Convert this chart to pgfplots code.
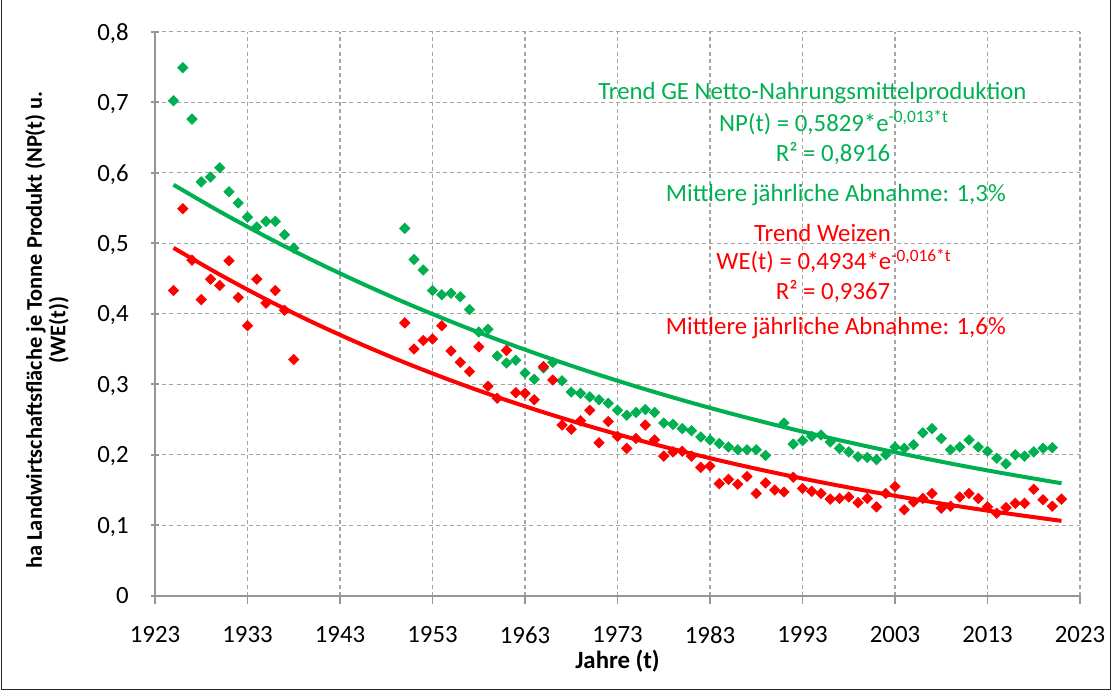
\documentclass[border=0pt]{standalone}
\usepackage{fontspec}
\setmainfont{Carlito}
\usepackage{pgfplots}
\usepackage{pgfplotstable}
\pgfplotsset{compat=1.18}
\definecolor{cgreen}{RGB}{0,176,80}
\definecolor{cred}{RGB}{255,0,0}
\definecolor{cgrid}{RGB}{165,165,165}
\definecolor{caxis}{RGB}{150,150,150}

\pgfplotstableread{
year val
1925 0.702
1926 0.749
1927 0.676
1928 0.587
1929 0.594
1930 0.607
1931 0.573
1932 0.557
1933 0.537
1934 0.523
1935 0.531
1936 0.531
1937 0.512
1938 0.493
1950 0.521
1951 0.477
1952 0.462
1953 0.433
1954 0.427
1955 0.429
1956 0.424
1957 0.406
1958 0.374
1959 0.378
1960 0.340
1961 0.330
1962 0.334
1963 0.316
1964 0.307
1965 0.323
1966 0.331
1967 0.305
1968 0.289
1969 0.287
1970 0.282
1971 0.278
1972 0.273
1973 0.263
1974 0.256
1975 0.260
1976 0.264
1977 0.260
1978 0.245
1979 0.243
1980 0.237
1981 0.234
1982 0.225
1983 0.221
1984 0.216
1985 0.211
1986 0.207
1987 0.207
1988 0.207
1989 0.199
1991 0.245
1992 0.215
1993 0.220
1994 0.226
1995 0.228
1996 0.218
1997 0.209
1998 0.204
1999 0.197
2000 0.196
2001 0.193
2002 0.200
2003 0.211
2004 0.209
2005 0.214
2006 0.231
2007 0.237
2008 0.223
2009 0.207
2010 0.211
2011 0.221
2012 0.211
2013 0.205
2014 0.195
2015 0.187
2016 0.200
2017 0.198
2018 0.204
2019 0.209
2020 0.210
}\npdata

\pgfplotstableread{
year val
1925 0.433
1926 0.549
1927 0.476
1928 0.420
1929 0.449
1930 0.440
1931 0.475
1932 0.423
1933 0.383
1934 0.449
1935 0.415
1936 0.433
1937 0.405
1938 0.335
1950 0.387
1951 0.350
1952 0.362
1953 0.364
1954 0.383
1955 0.347
1956 0.331
1957 0.318
1958 0.353
1959 0.297
1960 0.280
1961 0.348
1962 0.288
1963 0.287
1964 0.278
1965 0.325
1966 0.306
1967 0.242
1968 0.236
1969 0.248
1970 0.263
1971 0.217
1972 0.247
1973 0.226
1974 0.209
1975 0.223
1976 0.242
1977 0.221
1978 0.198
1979 0.204
1980 0.205
1981 0.198
1982 0.182
1983 0.184
1984 0.159
1985 0.165
1986 0.158
1987 0.169
1988 0.145
1989 0.160
1990 0.150
1991 0.147
1992 0.168
1993 0.152
1994 0.148
1995 0.145
1996 0.137
1997 0.138
1998 0.140
1999 0.132
2000 0.138
2001 0.126
2002 0.145
2003 0.155
2004 0.122
2005 0.133
2006 0.138
2007 0.145
2008 0.124
2009 0.127
2010 0.140
2011 0.145
2012 0.138
2013 0.126
2014 0.117
2015 0.125
2016 0.131
2017 0.131
2018 0.151
2019 0.136
2020 0.127
2021 0.137
}\wedata

\pgfplotstableread{
year val
1925 0.5829
1930 0.5449
1935 0.5093
1940 0.4760
1945 0.4450
1950 0.4159
1955 0.3888
1960 0.3634
1965 0.3397
1970 0.3175
1975 0.2968
1980 0.2774
1985 0.2593
1990 0.2424
1995 0.2266
2000 0.2118
2005 0.1980
2010 0.1850
2015 0.1730
2020 0.1617
2021 0.1595
}\nptrend

\pgfplotstableread{
year val
1925 0.4934
1930 0.4555
1935 0.4204
1940 0.3881
1945 0.3583
1950 0.3307
1955 0.3053
1960 0.2818
1965 0.2602
1970 0.2402
1975 0.2217
1980 0.2047
1985 0.1889
1990 0.1744
1995 0.1610
2000 0.1486
2005 0.1372
2010 0.1266
2015 0.1169
2020 0.1079
2021 0.1062
}\wetrend

\newcommand{\fs}{\fontsize{12.4}{14.5}\selectfont}
\newcommand{\fsy}{\fontsize{11.2}{11.8}\selectfont}

\begin{document}
\begin{tikzpicture}
\path[use as bounding box] (0,0) rectangle (556pt,-345.5pt);
\draw[line width=0.6pt, black!85] (0.6pt,0) -- (0.6pt,-344.9pt) -- (555.4pt,-344.9pt) -- (555.4pt,0);
\begin{axis}[
  at={(77.5pt,-15.85pt)}, anchor=north west,
  scale only axis, width=462.5pt, height=282pt,
  xmin=1923, xmax=2023, ymin=0, ymax=0.8,
  xtick={1923,1933,1943,1953,1963,1973,1983,1993,2003,2013,2023},
  ytick={0,0.1,0.2,0.3,0.4,0.5,0.6,0.7,0.8},
  axis x line*=bottom, axis y line*=left,
  axis line style={-, draw=caxis, line width=1.1pt},
  xmajorgrids, ymajorgrids,
  major grid style={draw=cgrid, line width=0.55pt, dash pattern=on 2pt off 1.6pt},
  xtick align=outside, ytick align=center,
  major tick length=4pt,
  tick style={draw=caxis, line width=0.8pt},
  tick label style={font=\fs},
  xticklabel style={yshift=-8pt, /pgf/number format/1000 sep={}, /pgf/number format/assume math mode=true},
  yticklabel style={xshift=-7.6pt, text depth=0pt, /pgf/number format/use comma, /pgf/number format/assume math mode=true},
  clip=false,
]
\addplot[only marks, mark=square*, mark size=1.8pt, mark options={rotate=45, fill=cgreen, draw=cgreen}] table[x=year, y=val] {\npdata};
\addplot[only marks, mark=square*, mark size=1.8pt, mark options={rotate=45, fill=cred, draw=cred}] table[x=year, y=val] {\wedata};
\addplot[draw=cgreen, line width=2pt, smooth, no marks] table[x=year, y=val] {\nptrend};
\addplot[draw=cred, line width=2pt, smooth, no marks] table[x=year, y=val] {\wetrend};

\node[anchor=base, text=cgreen, font=\fs] at (axis cs:1994.08,0.7035) {Trend GE Netto-Nahrungsmittelproduktion};
\node[anchor=base, text=cgreen, font=\fs] at (axis cs:1996.41,0.6587) {NP(t) = 0,5829*e\textsuperscript{-0,013*t}};
\node[anchor=base, text=cgreen, font=\fs] at (axis cs:1996.3,0.6162) {R² = 0,8916};
\node[anchor=base, text=cgreen, font=\fs] at (axis cs:1996.6,0.5594) {Mittlere jährliche Abnahme: 1,3\%};
\node[anchor=base, text=cred, font=\fs] at (axis cs:1995.16,0.5027) {Trend Weizen};
\node[anchor=base, text=cred, font=\fs] at (axis cs:1996.41,0.4624) {WE(t) = 0,4934*e\textsuperscript{-0,016*t}};
\node[anchor=base, text=cred, font=\fs] at (axis cs:1996.3,0.4199) {R² = 0,9367};
\node[anchor=base, text=cred, font=\fs] at (axis cs:1996.6,0.3702) {Mittlere jährliche Abnahme: 1,6\%};
\end{axis}
\node[anchor=base, font=\fs\bfseries] at (308.75pt,-334pt) {Jahre (t)};
\node[rotate=90, align=center, font=\fsy\bfseries] at (23.5pt,-165pt) {ha Landwirtschaftsfläche je Tonne Produkt (NP(t) u.\\(WE(t))};
\end{tikzpicture}
\end{document}
